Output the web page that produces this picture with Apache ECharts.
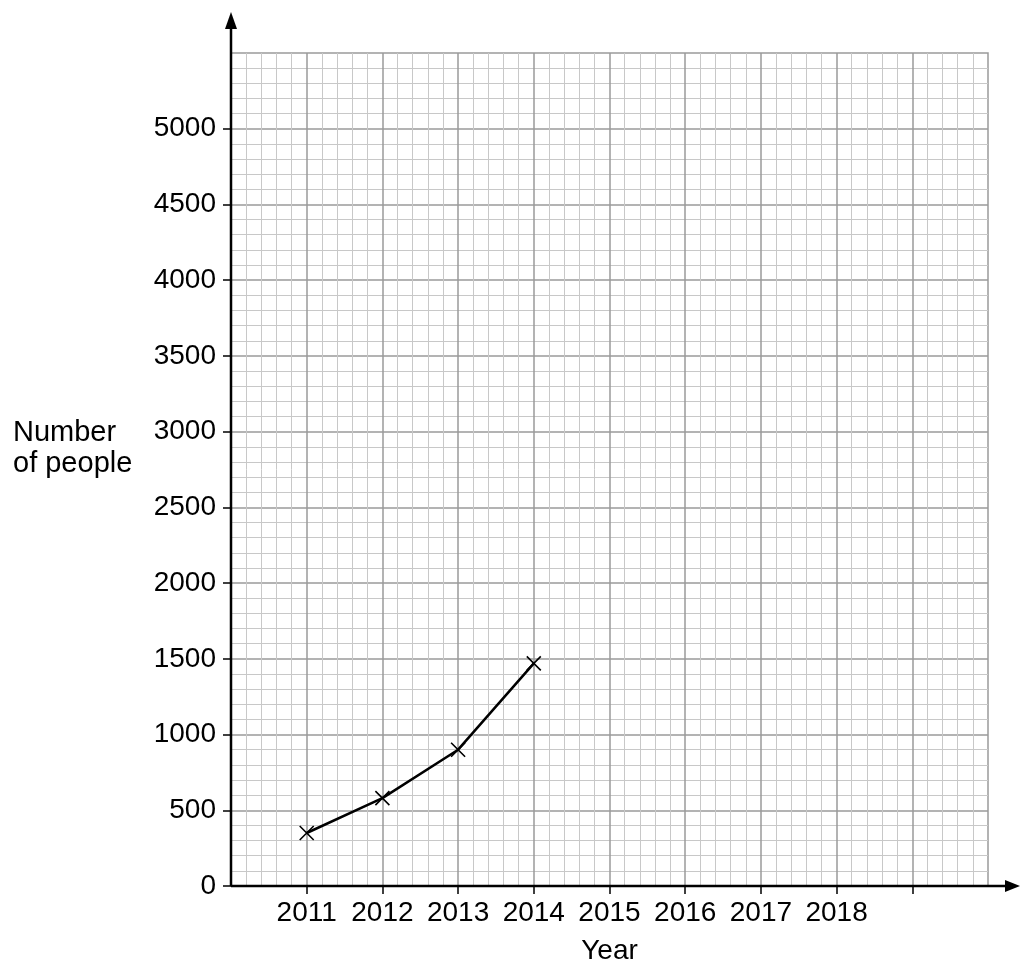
<!DOCTYPE html>
<html>
<head>
<meta charset="utf-8">
<script src="https://cdn.jsdelivr.net/npm/echarts@6/dist/echarts.min.js"></script>
<style>html,body{margin:0;padding:0;background:#fff}#c{width:1020px;height:965px}</style>
</head>
<body>
<div id="c"></div>
<script>
const years = [2011, 2012, 2013, 2014];
const people = [350, 580, 900, 1470];
const xLabels = [2011, 2012, 2013, 2014, 2015, 2016, 2017, 2018];
const yLabels = [0, 500, 1000, 1500, 2000, 2500, 3000, 3500, 4000, 4500, 5000];

const FONT = 'Liberation Sans, Arial, sans-serif';
const FS = 28;
const chart = echarts.init(document.getElementById('c'), null, {renderer: 'canvas'});
const option = {
  animation: false,
  backgroundColor: '#fff',
  grid: {left: 231, right: 32, top: 53, bottom: 79, containLabel: false, outerBoundsMode: 'none',
    show: true, borderColor: '#9a9a9a', borderWidth: 1.5, backgroundColor: 'transparent'},
  xAxis: {
    type: 'value', min: 2010, max: 2020, interval: 1,
    name: 'Year', nameLocation: 'middle', nameGap: 51,
    nameTextStyle: {color: '#000', fontSize: FS, fontFamily: FONT},
    axisLine: {show: false},
    axisTick: {show: true, length: 8, lineStyle: {color: '#000', width: 1.5},
      customValues: [2011, 2012, 2013, 2014, 2015, 2016, 2017, 2018, 2019]},
    axisLabel: {color: '#000', fontSize: FS, fontFamily: FONT, margin: 13,
      customValues: xLabels, formatter: v => String(v)},
    splitLine: {show: true, lineStyle: {color: '#9a9a9a', width: 1.5}},
    minorTick: {show: false, splitNumber: 5},
    minorSplitLine: {show: true, lineStyle: {color: '#c8c8c8', width: 1}}
  },
  yAxis: {
    type: 'value', min: 0, max: 5500, interval: 500,
    axisLine: {show: false},
    axisTick: {show: true, length: 8, lineStyle: {color: '#000', width: 1.5},
      customValues: yLabels},
    axisLabel: {color: '#000', fontSize: FS, fontFamily: FONT, margin: 15,
      customValues: yLabels, formatter: v => String(v)},
    splitLine: {show: true, lineStyle: {color: '#9a9a9a', width: 1.5}},
    minorTick: {show: false, splitNumber: 5},
    minorSplitLine: {show: true, lineStyle: {color: '#c8c8c8', width: 1}}
  },
  series: [{
    type: 'line',
    data: years.map((y, i) => [y, people[i]]),
    lineStyle: {color: '#000', width: 2.5},
    symbol: 'path://M0,0L10,10M10,0L0,10',
    symbolSize: 14,
    itemStyle: {color: 'transparent', borderColor: '#000', borderWidth: 1.6},
    z: 5
  }]
};
chart.setOption(option);

const o = chart.convertToPixel({gridIndex: 0}, [2010, 0]);
chart.setOption({
  graphic: [
    {type: 'line', shape: {x1: o[0], y1: o[1], x2: 1012, y2: o[1]}, style: {stroke: '#000', lineWidth: 2.5}, z: 100},
    {type: 'polygon', shape: {points: [[1020, o[1]], [1005, o[1] - 6], [1005, o[1] + 6]]}, style: {fill: '#000'}, z: 100},
    {type: 'line', shape: {x1: o[0], y1: o[1], x2: o[0], y2: 22}, style: {stroke: '#000', lineWidth: 2.5}, z: 100},
    {type: 'polygon', shape: {points: [[o[0], 12], [o[0] - 6, 29], [o[0] + 6, 29]]}, style: {fill: '#000'}, z: 100},
    {type: 'text', left: 13, top: 417, style: {text: 'Number\nof people', fill: '#000', font: '29px ' + FONT, lineHeight: 31}}
  ]
});
</script>
</body>
</html>
